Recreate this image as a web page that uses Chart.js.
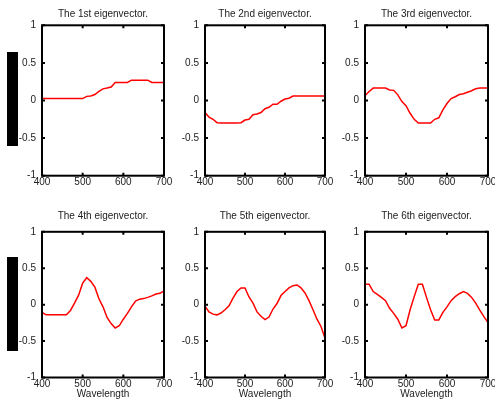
<!DOCTYPE html>
<html>
<head>
<meta charset="utf-8">
<script src="https://cdn.jsdelivr.net/npm/chart.js@4/dist/chart.umd.min.js"></script>
<style>
  html, body { margin: 0; padding: 0; width: 495px; height: 400px; overflow: hidden; background: #fff; }
  canvas.panel { position: absolute; }
  .bar { position: absolute; background: #000; }
</style>
</head>
<body>
<div class="bar" style="left:7px;top:52px;width:11px;height:94px"></div>
<div class="bar" style="left:7px;top:257px;width:11px;height:94px"></div>
<script>
// Wavelength samples (nm)
const wavelengths = [400, 410, 420, 430, 440, 450, 460, 470, 480, 490,
                     500, 510, 520, 530, 540, 550, 560, 570, 580, 590,
                     600, 610, 620, 630, 640, 650, 660, 670, 680, 690, 700];

// Eigenvector components at each wavelength
const eig1 = [0.025, 0.025, 0.025, 0.025, 0.025, 0.025, 0.025, 0.025, 0.025, 0.025,
              0.025, 0.055, 0.06, 0.08, 0.12, 0.155, 0.165, 0.18, 0.24, 0.24,
              0.24, 0.24, 0.27, 0.27, 0.27, 0.27, 0.27, 0.24, 0.24, 0.24, 0.24];
const eig2 = [-0.16, -0.22, -0.25, -0.295, -0.30, -0.30, -0.30, -0.30, -0.30, -0.295,
              -0.26, -0.25, -0.19, -0.18, -0.16, -0.11, -0.09, -0.05, -0.05, -0.01,
              0.02, 0.03, 0.06, 0.06, 0.06, 0.06, 0.06, 0.06, 0.06, 0.06, 0.06];
const eig3 = [0.065, 0.12, 0.165, 0.165, 0.165, 0.165, 0.14, 0.135, 0.075, -0.015,
              -0.07, -0.17, -0.25, -0.30, -0.30, -0.30, -0.30, -0.25, -0.23, -0.125,
              -0.04, 0.025, 0.05, 0.08, 0.09, 0.11, 0.13, 0.155, 0.165, 0.165, 0.165];
const eig4 = [-0.105, -0.14, -0.14, -0.14, -0.14, -0.14, -0.14, -0.08, 0.02, 0.13,
              0.295, 0.37, 0.32, 0.24, 0.08, -0.03, -0.175, -0.26, -0.32, -0.29,
              -0.20, -0.12, -0.03, 0.05, 0.075, 0.083, 0.10, 0.12, 0.145, 0.155, 0.19];
const eig5 = [-0.02, -0.10, -0.13, -0.14, -0.115, -0.07, -0.015, 0.09, 0.18, 0.23,
              0.23, 0.105, 0.02, -0.10, -0.16, -0.205, -0.17, -0.06, 0.015, 0.125,
              0.18, 0.23, 0.26, 0.27, 0.23, 0.16, 0.055, -0.07, -0.20, -0.30, -0.46];
const eig6 = [0.28, 0.28, 0.18, 0.14, 0.10, 0.055, -0.05, -0.12, -0.20, -0.32,
              -0.29, -0.07, 0.11, 0.28, 0.28, 0.10, -0.07, -0.21, -0.21, -0.105,
              -0.03, 0.055, 0.11, 0.15, 0.18, 0.155, 0.10, 0.02, -0.075, -0.165, -0.245];

const titles = ['The 1st eigenvector.', 'The 2nd eigenvector.', 'The 3rd eigenvector.',
                'The 4th eigenvector.', 'The 5th eigenvector.', 'The 6th eigenvector.'];
const xTickValues = [400, 500, 600, 700];
const yTickValues = [-1, -0.5, 0, 0.5, 1];
const xLabel = 'Wavelength';

const FONT = { family: '"Liberation Sans", Arial, Helvetica, sans-serif', size: 10, lineHeight: 1.2 };
const TEXT = '#222';
const Y_W = 40;     // width reserved for the y tick labels
const PAD_R = 12;   // room for the last x tick label

// Boxed axes with short inward tick marks on every side
const framePlugin = {
  id: 'frame',
  afterDatasetsDraw(chart) {
    const { ctx, chartArea: a, scales: { x, y } } = chart;
    const len = 3;
    ctx.save();
    ctx.strokeStyle = '#000';
    ctx.lineWidth = 2;
    ctx.beginPath();
    x.ticks.forEach(t => {
      const p = x.getPixelForValue(t.value);
      ctx.moveTo(p, a.bottom); ctx.lineTo(p, a.bottom - len);
      ctx.moveTo(p, a.top); ctx.lineTo(p, a.top + len);
    });
    y.ticks.forEach(t => {
      const p = y.getPixelForValue(t.value);
      ctx.moveTo(a.left, p); ctx.lineTo(a.left + len, p);
      ctx.moveTo(a.right, p); ctx.lineTo(a.right - len, p);
    });
    ctx.stroke();
    ctx.strokeRect(a.left, a.top, a.right - a.left, a.bottom - a.top);
    ctx.restore();
  }
};

// Panel geometry: plot-area edges and the band each row occupies
const cols = [{ left: 42, right: 164 }, { left: 205, right: 325 }, { left: 365, right: 488 }];
const rows = [
  { top: 25.3, bottom: 175.7, bandTop: 0, bandBottom: 200, titleMid: 14.2, xTitle: false },
  { top: 231.8, bottom: 377.5, bandTop: 200, bandBottom: 400, titleMid: 216.2, xTitle: true }
];
const series = [eig1, eig2, eig3, eig4, eig5, eig6];

series.forEach((values, i) => {
  const c = cols[i % 3], r = rows[Math.floor(i / 3)];
  const canvas = document.createElement('canvas');
  canvas.className = 'panel';
  canvas.width = Y_W + (c.right - c.left) + PAD_R;
  canvas.height = r.bandBottom - r.bandTop;
  canvas.style.left = (c.left - Y_W) + 'px';
  canvas.style.top = r.bandTop + 'px';
  document.body.appendChild(canvas);

  const lh = FONT.size * FONT.lineHeight;
  const padTop = r.titleMid - r.bandTop - lh / 2;
  const padBottom = (r.top - r.bandTop) - lh - padTop;

  new Chart(canvas, {
    type: 'line',
    data: {
      datasets: [{
        data: wavelengths.map((w, k) => ({ x: w, y: values[k] })),
        borderColor: '#ff0000',
        borderWidth: 1.5,
        pointRadius: 0,
        tension: 0,
        fill: false
      }]
    },
    options: {
      responsive: false,
      animation: false,
      events: [],
      layout: { padding: { left: 0, right: PAD_R, top: 0, bottom: 0 } },
      plugins: {
        legend: { display: false },
        tooltip: { enabled: false },
        title: {
          display: true,
          fullSize: false,
          text: titles[i],
          color: TEXT,
          font: { ...FONT, weight: 'normal' },
          padding: { top: padTop, bottom: padBottom }
        }
      },
      scales: {
        x: {
          type: 'linear',
          min: 400, max: 700,
          afterBuildTicks: s => { s.ticks = xTickValues.map(v => ({ value: v })); },
          afterFit: s => { s.height = r.bandBottom - r.bottom; },
          grid: { display: false, drawTicks: false },
          border: { display: false },
          ticks: { color: TEXT, font: FONT, padding: 1, maxRotation: 0, autoSkip: false,
                   callback: v => String(v) },
          title: { display: r.xTitle, text: xLabel, color: TEXT, font: FONT, padding: 0 }
        },
        y: {
          type: 'linear',
          min: -1, max: 1,
          afterBuildTicks: s => { s.ticks = yTickValues.map(v => ({ value: v })); },
          afterFit: s => { s.width = Y_W; },
          grid: { display: false, drawTicks: false },
          border: { display: false },
          ticks: { color: TEXT, font: FONT, padding: 6, autoSkip: false,
                   callback: v => String(v) }
        }
      }
    },
    plugins: [framePlugin]
  });
});
</script>
</body>
</html>
